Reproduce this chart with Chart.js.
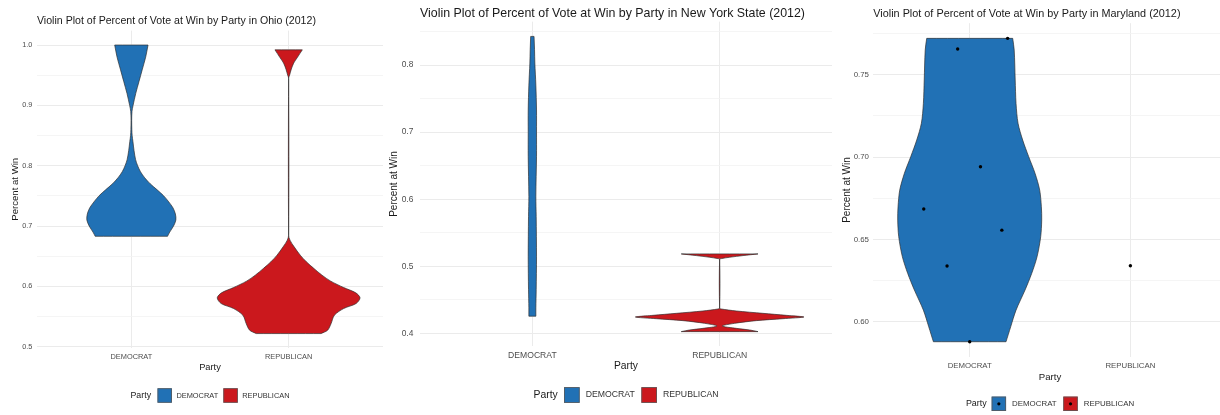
<!DOCTYPE html>
<html>
<head>
<meta charset="utf-8">
<script src="https://cdn.jsdelivr.net/npm/chart.js@4.4.1/dist/chart.umd.min.js"></script>
<style>
  html, body { margin: 0; padding: 0; background: #ffffff; overflow: hidden; }
  #wrap { position: relative; width: 1220px; height: 415px; overflow: hidden; }
  canvas { position: absolute; top: 0; }
</style>
</head>
<body>
<div id="wrap">
  <canvas id="ohio"></canvas>
  <canvas id="newyork"></canvas>
  <canvas id="maryland"></canvas>
</div>
<script>
// ---- data -------------------------------------------------------------
const parties = ['DEMOCRAT', 'REPUBLICAN'];
const partyColors = ['#2171B5', '#CB181D'];

// Violin outlines: [percent at win, density half-width in category units]
const ohioDemocrat = [
  [0.683, 0.230], [0.690, 0.244], [0.700, 0.268], [0.710, 0.283], [0.720, 0.280],
  [0.730, 0.265], [0.740, 0.238], [0.750, 0.206], [0.760, 0.164], [0.770, 0.120],
  [0.780, 0.085], [0.790, 0.058], [0.800, 0.040], [0.810, 0.027], [0.825, 0.017],
  [0.840, 0.010], [0.850, 0.005], [0.860, 0.003], [0.875, 0.002], [0.890, 0.004],
  [0.900, 0.011], [0.920, 0.028], [0.940, 0.049], [0.960, 0.070], [0.980, 0.091],
  [1.000, 0.106]
];
const ohioRepublican = [
  [0.5218, 0.206], [0.5274, 0.248], [0.5384, 0.270], [0.5522, 0.291], [0.5633, 0.350],
  [0.5716, 0.429], [0.5810, 0.454], [0.5893, 0.427], [0.5981, 0.350], [0.6086, 0.268],
  [0.6186, 0.212], [0.6296, 0.161], [0.6407, 0.113], [0.6517, 0.074], [0.6656, 0.035],
  [0.6766, 0.0085], [0.6849, 0.000], [0.9450, 0.000], [0.9500, 0.006], [0.9600, 0.017],
  [0.9700, 0.032], [0.9800, 0.057], [0.9920, 0.087]
];
const nyDemocrat = [
  [0.4255, 0.0187], [0.438, 0.0187], [0.465, 0.0205], [0.514, 0.0222], [0.574, 0.0205],
  [0.604, 0.0187], [0.664, 0.0222], [0.700, 0.0222], [0.733, 0.0222], [0.770, 0.0187],
  [0.803, 0.0133], [0.823, 0.0116], [0.8427, 0.0090]
];
const nyRepublican = [
  [0.4025, 0.205], [0.4050, 0.160], [0.4074, 0.089], [0.4109, 0.014], [0.4149, 0.080],
  [0.4189, 0.196], [0.4218, 0.338], [0.4243, 0.450], [0.4268, 0.356], [0.4298, 0.231],
  [0.4333, 0.089], [0.4363, 0.008], [0.4373, 0.000], [0.5104, 0.000], [0.5114, 0.009],
  [0.5134, 0.053], [0.5159, 0.125], [0.5184, 0.205]
];
const mdDemocrat = [
  [0.5878, 0.2261], [0.5969, 0.2551], [0.6070, 0.2883], [0.6192, 0.3443], [0.6293, 0.3858],
  [0.6394, 0.4190], [0.6516, 0.4418], [0.6617, 0.4481], [0.6698, 0.4460], [0.6799, 0.4356],
  [0.6901, 0.4066], [0.7002, 0.3671], [0.7103, 0.3298], [0.7205, 0.3008], [0.7326, 0.2883],
  [0.7468, 0.2831], [0.7650, 0.2769], [0.7721, 0.2676]
];

// Maryland district results, with the horizontal jitter of each dot
const mdDemocratVotes  = [0.7656, 0.7721, 0.6941, 0.6684, 0.6556, 0.6338, 0.5878];
const mdDemocratJitter = [-0.075, 0.236, 0.067, -0.286, 0.200, -0.141, 0.000];
const mdRepublicanVotes  = [0.634];
const mdRepublicanJitter = [0.000];

// Axis tick labels
const ohioTicks = [0.5, 0.6, 0.7, 0.8, 0.9, 1.0];
const nyTicks   = [0.4, 0.5, 0.6, 0.7, 0.8];
const mdTicks   = [0.60, 0.65, 0.70, 0.75];

// ---- drawing ----------------------------------------------------------
const FAMILY = '"Liberation Sans", Arial, Helvetica, sans-serif';
Chart.defaults.font.family = FAMILY;

function outline(profile, center) {
  const right = profile.map(([v, w]) => ({ x: center + w, y: v }));
  const left = profile.slice().reverse().map(([v, w]) => ({ x: center - w, y: v }));
  const rTop = right[right.length - 1], lTop = left[0], lBot = left[left.length - 1];
  // corners are doubled so the flat ends stay flat with curved sides
  return [...right, rTop, lTop, ...left, lBot, right[0]];
}

function extent(groups) {
  let lo = Infinity, hi = -Infinity;
  groups.forEach(g => g.forEach(v => { lo = Math.min(lo, v); hi = Math.max(hi, v); }));
  const pad = (hi - lo) * 0.05;
  return [lo - pad, hi + pad];
}

const legendPanel = {
  id: 'legendPanel',
  afterDraw(chart, _args, o) {
    const { ctx, chartArea: a } = chart;
    ctx.save();
    ctx.fillStyle = '#1A1A1A';
    ctx.textAlign = 'left';
    ctx.textBaseline = 'alphabetic';
    ctx.font = `${o.titleSize}px ${FAMILY}`;
    ctx.fillText(o.title, a.left, o.titleBaseline);

    const tFont = `${o.legendTitleSize}px ${FAMILY}`;
    const lFont = `${o.legendLabelSize}px ${FAMILY}`;
    ctx.font = tFont;
    const tw = ctx.measureText('Party').width;
    ctx.font = lFont;
    const lw = parties.map(p => ctx.measureText(p).width);
    const s = o.keySize;
    const total = tw + o.titleGap + parties.length * (s + o.keyGap) +
      lw.reduce((m, n) => m + n, 0) + (parties.length - 1) * o.itemGap;
    let x = (a.left + a.right) / 2 - total / 2;
    const cy = o.legendY;
    ctx.textBaseline = 'middle';
    ctx.font = tFont;
    ctx.fillStyle = '#1A1A1A';
    ctx.fillText('Party', x, cy);
    x += tw + o.titleGap;
    parties.forEach((p, i) => {
      ctx.fillStyle = partyColors[i];
      ctx.fillRect(x, cy - s / 2, s, s);
      ctx.strokeStyle = '#595959';
      ctx.lineWidth = 0.8;
      ctx.strokeRect(x + 0.4, cy - s / 2 + 0.4, s - 0.8, s - 0.8);
      if (o.keyDot) {
        ctx.fillStyle = '#000000';
        ctx.beginPath();
        ctx.arc(x + s / 2, cy, 1.6, 0, Math.PI * 2);
        ctx.fill();
      }
      x += s + o.keyGap;
      ctx.font = lFont;
      ctx.fillStyle = '#333333';
      ctx.fillText(p, x, cy);
      x += lw[i] + o.itemGap;
    });
    ctx.restore();
  }
};

function makePanel(p) {
  const canvas = document.getElementById(p.id);
  canvas.width = p.width;
  canvas.height = 415;
  canvas.style.left = p.left + 'px';
  canvas.style.width = p.width + 'px';
  canvas.style.height = '415px';

  const [yMin, yMax] = extent(p.ranges);
  const step = p.ticks[1] - p.ticks[0];
  const grid = [];
  p.ticks.forEach(t => {
    grid.push({ value: t, major: true, label: t.toFixed(p.decimals) });
    const m = t + step / 2;
    if (m <= yMax) grid.push({ value: m, major: false, label: '' });
  });
  const below = p.ticks[0] - step / 2;
  if (below >= yMin) grid.push({ value: below, major: false, label: '' });
  grid.sort((a, b) => a.value - b.value);

  const datasets = p.violins.map(v => ({
    data: outline(v.profile, v.category),
    showLine: true,
    fill: 'shape',
    backgroundColor: partyColors[v.category - 1],
    borderColor: 'rgba(45,45,45,0.85)',
    borderWidth: 0.8,
    tension: 0.3,
    pointRadius: 0,
    pointHoverRadius: 0,
    order: 2
  }));
  (p.points || []).forEach(pt => {
    datasets.push({
      data: pt.votes.map((v, i) => ({ x: pt.category + pt.jitter[i], y: v })),
      showLine: false,
      pointRadius: 1.7,
      pointBorderWidth: 0,
      pointBackgroundColor: '#000000',
      order: 0
    });
  });

  return new Chart(canvas, {
    type: 'scatter',
    data: { datasets },
    options: {
      responsive: false,
      animation: false,
      devicePixelRatio: 1,
      events: [],
      layout: { padding: { top: p.area.t, right: p.width - p.area.r, bottom: 0, left: 0 } },
      plugins: {
        legend: { display: false },
        tooltip: { enabled: false },
        legendPanel: p.decor
      },
      scales: {
        x: {
          type: 'linear', min: 0.4, max: 2.6,
          afterBuildTicks: s => { s.ticks = parties.map((_, i) => ({ value: i + 1 })); },
          afterFit: s => { s.height = 415 - p.area.b; },
          ticks: {
            autoSkip: false, maxRotation: 0, padding: p.xTickPad, color: '#4D4D4D',
            font: { size: p.tickSize },
            callback: (_v, i) => parties[i]
          },
          grid: { drawTicks: false, color: '#EBEBEB', lineWidth: 1 },
          border: { display: false },
          title: {
            display: true, text: 'Party', color: '#1A1A1A',
            font: { size: p.axisTitleSize },
            padding: { top: 0, bottom: p.xTitleOffset - p.axisTitleSize * 0.6 }
          }
        },
        y: {
          type: 'linear', min: yMin, max: yMax,
          afterBuildTicks: s => { s.ticks = grid.map(g => ({ value: g.value })); },
          afterFit: s => { s.width = p.area.l; },
          ticks: {
            autoSkip: false, padding: p.yTickPad, color: '#4D4D4D',
            font: { size: p.yTickSize },
            callback: (_v, i) => grid[i].label
          },
          grid: {
            drawTicks: false,
            color: c => (grid[c.index] && grid[c.index].major) ? '#EBEBEB' : '#F3F3F3',
            lineWidth: c => (grid[c.index] && grid[c.index].major) ? 1 : 0.8
          },
          border: { display: false },
          title: {
            display: true, text: 'Percent at Win', color: '#1A1A1A',
            font: { size: p.yTitleSize },
            padding: { top: p.yTitleX - p.yTitleSize * 0.6, bottom: 0 }
          }
        }
      }
    },
    plugins: [legendPanel]
  });
}

makePanel({
  id: 'ohio', left: 0, width: 392,
  area: { l: 37, r: 383, t: 30.6, b: 348 },
  ranges: [ohioDemocrat.map(d => d[0]), ohioRepublican.map(d => d[0])],
  ticks: ohioTicks, decimals: 1,
  violins: [{ category: 1, profile: ohioDemocrat }, { category: 2, profile: ohioRepublican }],
  tickSize: 7.4, yTickSize: 7.3, xTickPad: 4.3, yTickPad: 4.7,
  axisTitleSize: 9.3, xTitleOffset: 47.5, yTitleSize: 9.6, yTitleX: 15.5,
  decor: {
    title: 'Violin Plot of Percent of Vote at Win by Party in Ohio (2012)',
    titleSize: 10.6, titleBaseline: 24,
    legendY: 395.5, keySize: 14.4, legendTitleSize: 8.8, legendLabelSize: 7.4,
    titleGap: 6.5, keyGap: 4.5, itemGap: 5.2, keyDot: false
  }
});

makePanel({
  id: 'newyork', left: 384, width: 452,
  area: { l: 36, r: 448, t: 21.65, b: 346.4 },
  ranges: [nyDemocrat.map(d => d[0]), nyRepublican.map(d => d[0])],
  ticks: nyTicks, decimals: 1,
  violins: [{ category: 1, profile: nyDemocrat }, { category: 2, profile: nyRepublican }],
  tickSize: 8.6, yTickSize: 8.4, xTickPad: 4.1, yTickPad: 6.7,
  axisTitleSize: 10.3, xTitleOffset: 48.7, yTitleSize: 10, yTitleX: 10,
  decor: {
    title: 'Violin Plot of Percent of Vote at Win by Party in New York State (2012)',
    titleSize: 12.4, titleBaseline: 16.7,
    legendY: 395, keySize: 15.6, legendTitleSize: 10.4, legendLabelSize: 8.7,
    titleGap: 6.3, keyGap: 6, itemGap: 6.7, keyDot: false
  }
});

makePanel({
  id: 'maryland', left: 836, width: 395,
  area: { l: 37.3, r: 390.8, t: 23.2, b: 356.9 },
  ranges: [mdDemocrat.map(d => d[0]), mdDemocratVotes, mdRepublicanVotes],
  ticks: mdTicks, decimals: 2,
  violins: [{ category: 1, profile: mdDemocrat }],
  points: [
    { category: 1, votes: mdDemocratVotes, jitter: mdDemocratJitter },
    { category: 2, votes: mdRepublicanVotes, jitter: mdRepublicanJitter }
  ],
  tickSize: 7.8, yTickSize: 7.9, xTickPad: 4.3, yTickPad: 4.3,
  axisTitleSize: 9.6, xTitleOffset: 37.7, yTitleSize: 10, yTitleX: 11,
  decor: {
    title: 'Violin Plot of Percent of Vote at Win by Party in Maryland (2012)',
    titleSize: 10.85, titleBaseline: 16.7,
    legendY: 403.8, keySize: 14.4, legendTitleSize: 8.9, legendLabelSize: 7.9,
    titleGap: 5, keyGap: 6, itemGap: 6.7, keyDot: true
  }
});
</script>
</body>
</html>
